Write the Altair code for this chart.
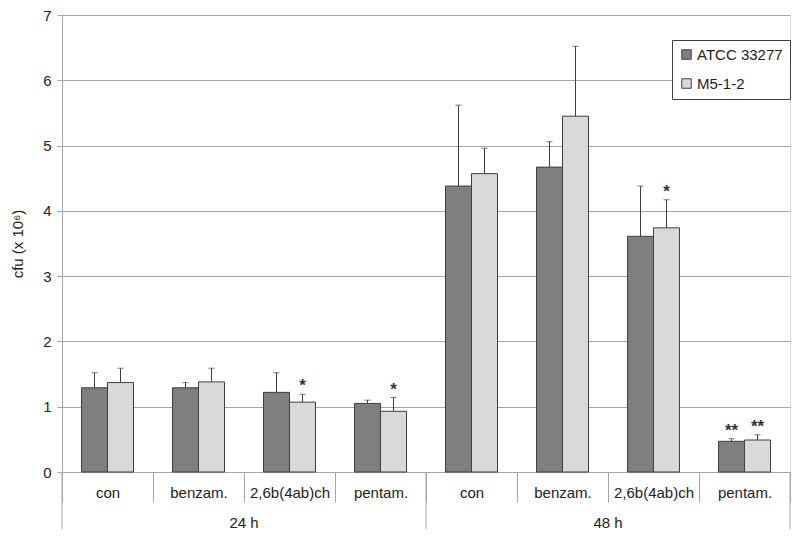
import altair as alt
import pandas as pd

groups = ["24 h", "24 h", "24 h", "24 h", "48 h", "48 h", "48 h", "48 h"]
treatments = ["con", "benzam.", "2,6b(4ab)ch", "pentam.", "con", "benzam.", "2,6b(4ab)ch", "pentam."]
series_names = ["ATCC 33277", "M5-1-2"]
atcc_mean = [1.29, 1.29, 1.22, 1.05, 4.38, 4.67, 3.61, 0.47]
atcc_err = [0.23, 0.08, 0.30, 0.05, 1.24, 0.39, 0.77, 0.04]
m5_mean = [1.37, 1.38, 1.07, 0.93, 4.57, 5.45, 3.74, 0.49]
m5_err = [0.22, 0.21, 0.12, 0.21, 0.39, 1.07, 0.43, 0.08]
atcc_star = ["", "", "", "", "", "", "", "**"]
m5_star = ["", "", "*", "*", "", "", "*", "**"]
y_ticks = [0, 1, 2, 3, 4, 5, 6, 7]

cats = [g + "|" + t for g, t in zip(groups, treatments)]
rows = []
for name, means, errs, stars in [(series_names[0], atcc_mean, atcc_err, atcc_star),
                                 (series_names[1], m5_mean, m5_err, m5_star)]:
    for c, m, e, s in zip(cats, means, errs, stars):
        rows.append({"cat": c, "series": name, "mean": m, "top": m + e, "star": s})
df = pd.DataFrame(rows)

group_names = ["24 h", "48 h"]
group_mid = [cats[2], cats[6]]
grp_df = pd.DataFrame({"group": group_names, "mid": group_mid})
start_df = pd.DataFrame({"cat": [cats[0], cats[4]]})
end_df = pd.DataFrame({"cat": [cats[-1]]})

W, H = 728, 457
FONT = "Liberation Sans"
FS = 15
GRID = "#a6a6a6"
TXT = "#222222"

xscale = alt.Scale(domain=cats, paddingInner=0, paddingOuter=0)
offscale = alt.Scale(domain=series_names, paddingInner=0, paddingOuter=0.75)
yscale = alt.Scale(domain=[0, 7], nice=False)

xaxis = alt.Axis(labelExpr="split(datum.label, '|')[1]", labelAngle=0, title=None,
                 tickBand="extent", tickSize=30, labelPadding=-10,
                 tickColor=GRID, domainColor=GRID, labelFontSize=FS,
                 labelColor=TXT, labelFont=FONT, labelBaseline="middle")

base = alt.Chart(df)

bars = base.mark_bar(stroke="#3f3f3f", strokeWidth=1).encode(
    x=alt.X("cat:N", scale=xscale, title=None, axis=xaxis),
    xOffset=alt.XOffset("series:N", scale=offscale),
    y=alt.Y("mean:Q", scale=yscale, title="cfu (x 10⁶)",
            axis=alt.Axis(values=y_ticks, format="d", grid=True, gridColor=GRID, domainColor=GRID,
                          tickColor=GRID, tickSize=5, labelPadding=6, labelFontSize=FS,
                          labelColor=TXT, labelFont=FONT, titleFont=FONT,
                          titleFontSize=FS, titleFontWeight="normal", titleColor=TXT,
                          titlePadding=17)),
    color=alt.Color("series:N", scale=alt.Scale(domain=series_names, range=["#7f7f7f", "#d9d9d9"]),
                    legend=alt.Legend(title=None, orient="none", legendX=610, legendY=25,
                                      symbolType="square", symbolSize=90,
                                      symbolStrokeColor="#404040", symbolStrokeWidth=1,
                                      labelFontSize=FS, labelFont=FONT, labelColor=TXT,
                                      strokeColor="#404040", fillColor="white",
                                      padding=7, rowPadding=13, labelOffset=3)),
)

err = base.mark_rule(color="#3f3f3f", strokeWidth=1).encode(
    x=alt.X("cat:N", scale=xscale, title=None, axis=xaxis),
    xOffset=alt.XOffset("series:N", scale=offscale),
    y=alt.Y("mean:Q", scale=yscale),
    y2="top:Q",
)

caps = base.mark_tick(color="#3f3f3f", thickness=1, size=6).encode(
    x=alt.X("cat:N", scale=xscale, title=None, axis=xaxis),
    xOffset=alt.XOffset("series:N", scale=offscale),
    y=alt.Y("top:Q", scale=yscale),
)

stars = base.mark_text(baseline="bottom", dy=1, fontSize=17, fontWeight="bold",
                       font=FONT, color="#333333").encode(
    x=alt.X("cat:N", scale=xscale, title=None, axis=xaxis),
    xOffset=alt.XOffset("series:N", scale=offscale),
    y=alt.Y("top:Q", scale=yscale),
    text="star:N",
)

grp_text = alt.Chart(grp_df).mark_text(baseline="middle", fontSize=FS, font=FONT, color=TXT).encode(
    x=alt.X("mid:N", scale=xscale, title=None, axis=xaxis, bandPosition=0),
    y=alt.value(H + 51),
    text="group:N",
)

start_rules = alt.Chart(start_df).mark_rule(color=GRID, strokeWidth=1).encode(
    x=alt.X("cat:N", scale=xscale, title=None, axis=xaxis, bandPosition=0),
    y=alt.value(H),
    y2=alt.value(H + 57),
)

end_rules = alt.Chart(end_df).mark_rule(color=GRID, strokeWidth=1).encode(
    x=alt.X("cat:N", scale=xscale, title=None, axis=xaxis, bandPosition=1),
    y=alt.value(H),
    y2=alt.value(H + 57),
)

chart = alt.layer(bars, err, caps, stars, grp_text, start_rules, end_rules).properties(
    width=W, height=H,
    autosize=alt.AutoSizeParams(type="none"),
    padding={"left": 54, "top": 7, "right": 2, "bottom": 58},
).configure_view(stroke=None).configure(background="white")

chart.save("out.html", embed_options={"renderer": "svg", "actions": False})
